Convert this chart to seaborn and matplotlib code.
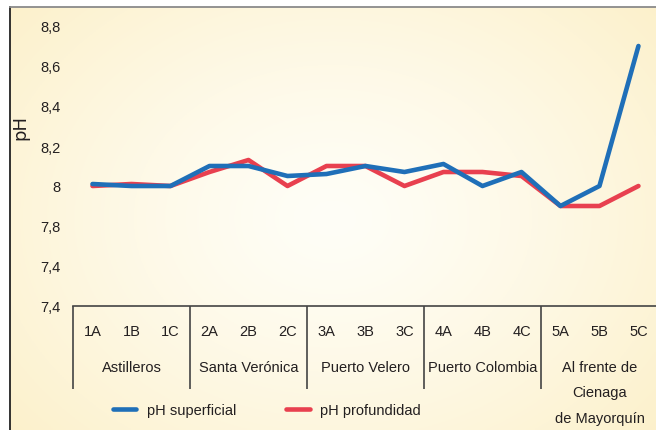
import numpy as np
import pandas as pd
import matplotlib.pyplot as plt
import seaborn as sns
from matplotlib.lines import Line2D

# sampling sites and pH readings
sites = ['1A', '1B', '1C', '2A', '2B', '2C', '3A', '3B', '3C',
         '4A', '4B', '4C', '5A', '5B', '5C']
ph_superficial = [8.01, 8.0, 8.0, 8.10, 8.10, 8.05, 8.06, 8.10, 8.07,
                  8.11, 8.0, 8.07, 7.90, 8.0, 8.70]
ph_profundidad = [8.0, 8.01, 8.0, 8.07, 8.13, 8.0, 8.10, 8.10, 8.0,
                  8.07, 8.07, 8.05, 7.90, 7.90, 8.0]
groups = ['Astilleros', 'Santa Verónica', 'Puerto Velero', 'Puerto Colombia',
          'Al frente de\nCienaga\nde Mayorquín']
ytick_vals = [7.4, 7.6, 7.8, 8.0, 8.2, 8.4, 8.6, 8.8]
ytick_labels = ['7,4', '7,4', '7,8', '8', '8,2', '8,4', '8,6', '8,8']

df = pd.concat([
    pd.DataFrame({'sitio': sites, 'pH': ph_superficial, 'serie': 'pH superficial'}),
    pd.DataFrame({'sitio': sites, 'pH': ph_profundidad, 'serie': 'pH profundidad'}),
])

sns.set_style('white')
plt.rcParams['font.family'] = ['Liberation Sans', 'DejaVu Sans']
text_color = '#231f20'
fs = 10.5

fig = plt.figure(figsize=(6.56, 4.31), dpi=100)

# cream radial background with a left/top border
bg = fig.add_axes([10 / 656, 0, 646 / 656, 423 / 431])
yy, xx = np.mgrid[0:1:200j, 0:1:300j]
dist = np.sqrt(((xx - 0.5) / 0.72) ** 2 + ((yy - 0.5) / 0.85) ** 2)
dist = np.clip(dist, 0, 1) ** 1.3
c_in = np.array([255, 254, 247]) / 255
c_out = np.array([252, 239, 198]) / 255
img = c_in[None, None, :] * (1 - dist[..., None]) + c_out[None, None, :] * dist[..., None]
bg.imshow(img, aspect='auto', extent=[0, 1, 0, 1])
bg.set_xticks([])
bg.set_yticks([])
for s in ['right', 'bottom']:
    bg.spines[s].set_visible(False)
bg.spines['left'].set_color('#222222')
bg.spines['left'].set_linewidth(1.3)
bg.spines['top'].set_color('#8a8a8a')
bg.spines['top'].set_linewidth(1.3)

ax = fig.add_axes([73 / 656, 124 / 431, 583 / 656, 299 / 431])
ax.patch.set_alpha(0)

palette = {'pH superficial': '#1f6fb8', 'pH profundidad': '#e8404f'}
sns.lineplot(data=df, x='sitio', y='pH', hue='serie', hue_order=['pH profundidad', 'pH superficial'],
             palette=palette, sort=False, linewidth=3.3, ax=ax, legend=False)

ax.set_xlim(-0.5, 14.45)
ax.set_ylim(7.4, 8.895)
ax.set_yticks(ytick_vals)
ax.set_yticklabels(ytick_labels)
ax.set_xticks(range(len(sites)))
ax.set_xticklabels(sites)
ax.tick_params(axis='both', length=0, labelsize=fs, colors=text_color)
ax.tick_params(axis='y', pad=9)
ax.tick_params(axis='x', pad=13)
ax.set_xlabel('')
ax.set_ylabel('pH', fontsize=13, color=text_color, family='DejaVu Sans')
ax.yaxis.set_label_coords(-0.074, 0.6)

for s in ['top', 'right', 'left']:
    ax.spines[s].set_visible(False)
ax.spines['bottom'].set_color('#444444')
ax.spines['bottom'].set_linewidth(1.2)

# category table below the axis
ax.vlines([-0.5, 2.5, 5.5, 8.5, 11.5], -0.278, 0, transform=ax.get_xaxis_transform(),
          colors='#444444', linewidth=1.2, clip_on=False)
for i, g in enumerate(groups):
    if '\n' in g:
        ax.text(3 * i + 1, -0.18, g, transform=ax.get_xaxis_transform(), ha='center',
                va='top', fontsize=fs, color=text_color, linespacing=2.05)
    else:
        ax.text(3 * i + 1, -0.204, g, transform=ax.get_xaxis_transform(), ha='center',
                va='center', fontsize=fs, color=text_color)

# legend
handles = [Line2D([], [], color=palette['pH superficial'], linewidth=3.3),
           Line2D([], [], color=palette['pH profundidad'], linewidth=3.3)]
fig.legend(handles, ['pH superficial', 'pH profundidad'], ncol=2, frameon=False,
           loc='center left', bbox_to_anchor=(113 / 656, 20 / 431), borderpad=0,
           borderaxespad=0, handlelength=1.6, handletextpad=0.75, columnspacing=3.4,
           fontsize=fs, labelcolor=text_color)

fig.savefig('out.png', dpi=100)
